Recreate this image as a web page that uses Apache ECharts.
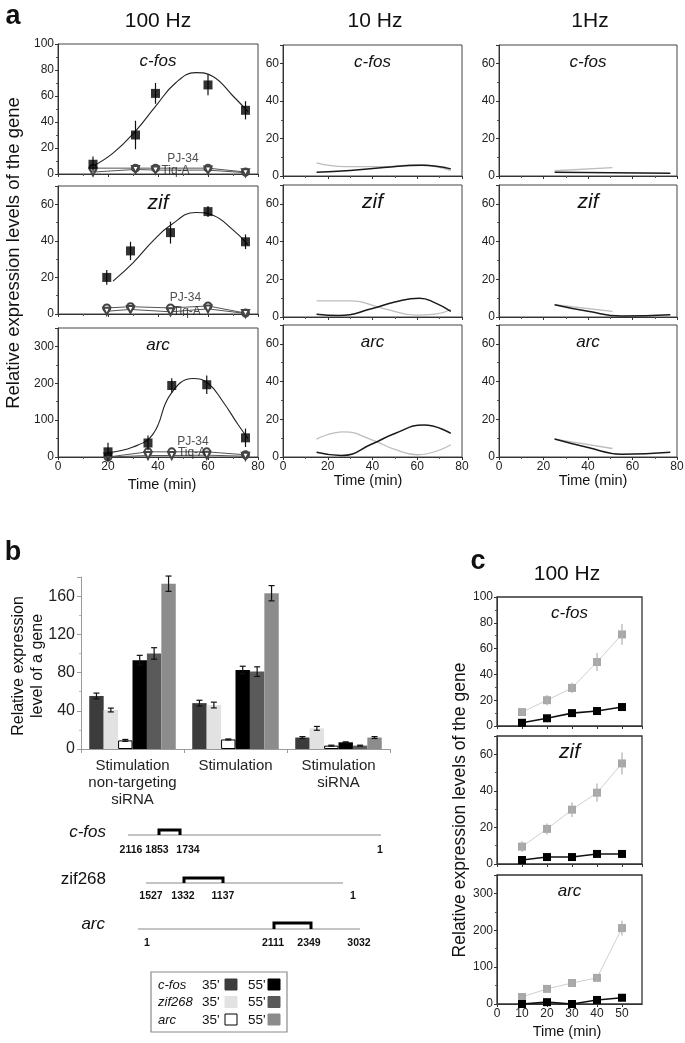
<!DOCTYPE html>
<html>
<head>
<meta charset="utf-8">
<script src="https://cdn.jsdelivr.net/npm/echarts@6/dist/echarts.min.js"></script>
<style>
  html, body { margin: 0; padding: 0; background: #fff; }
  #chart { width: 685px; height: 1043px; }
</style>
</head>
<body>
<div id="chart"></div>
<script>
// ---------- data ----------
const genes = ["c-fos", "zif", "arc"];
const freqs = ["100 Hz", "10 Hz", "1Hz"];
const timeLabel = "Time (min)";
const yLabel = "Relative expression levels of the gene";

// panel a, 100 Hz: [time, value, error]
const cfos100Points = [[14, 7.5, 6], [31, 30, 11], [39, 62, 8], [60, 68.5, 8], [75, 49, 7]];
const cfos100Fit = [[14, 6], [22, 16], [31, 33], [39, 52], [47, 70], [55, 78], [62, 75], [70, 60], [76, 48]];
const cfos100PJ34 = [[14, 4.5], [31, 4.5], [39, 4.5], [60, 4.5], [75, 1.5]];
const cfos100TiqA = [[14, 1.5], [31, 3.5], [39, 3], [60, 3], [75, 1]];

const zif100Points = [[19.5, 20, 4], [29, 34.5, 5], [45, 44.5, 6], [60, 56, 3], [75, 39.5, 4]];
const zif100Fit = [[22, 18], [30, 28], [38, 40], [45, 48.5], [55, 55.5], [62, 54], [70, 46], [76, 38]];
const zif100PJ34 = [[19.5, 3.3], [29, 4], [45, 3.3], [60, 4.4], [75, 0.5]];
const zif100TiqA = [[19.5, 1.5], [29, 2.5], [45, 1.2], [60, 2.8], [75, 0.3]];

const arc100Points = [[20, 14, 25], [36, 38, 20], [45.5, 194, 20], [59.5, 196, 25], [75, 52, 25]];
const arc100Fit = [[20, 12], [30, 27], [38, 62], [45, 170], [54, 213], [60, 200], [66, 150], [72, 88], [76, 50]];
const arc100PJ34 = [[20, 0], [36, 14], [45.5, 14], [59.5, 14], [75, 6]];
const arc100TiqA = [[20, 0], [36, 4], [45.5, 4], [59.5, 5], [75, 2]];

// where the "PJ-34" / "Tiq-A" notes sit, in data units
const pjNote = [[50, 11.5], [51, 8.8], [54, 41]];
const tiqNote = [[47, 2.5], [51.5, 1], [53.6, 11]];

// panel a, 10 Hz and 1 Hz traces
const cfos10Black = [[15, 2], [30, 3], [45, 4.5], [62, 5.8], [75, 3.8]];
const cfos10Gray = [[15, 7], [28, 5], [45, 5], [60, 6], [75, 3]];
const zif10Black = [[15, 1.5], [25, 0.8], [40, 4.5], [50, 8], [61, 10], [68, 7.5], [75, 3]];
const zif10Gray = [[15, 8.5], [30, 8.5], [45, 4.5], [60, 1], [68, 1.5], [75, 4]];
const arc10Black = [[15, 2.5], [26, 0.8], [40, 7], [50, 12.5], [63, 17], [75, 12.5]];
const arc10Gray = [[15, 9.5], [27, 13.3], [40, 9], [50, 4], [60, 1.2], [75, 6.5]];

const cfos1Black = [[25, 2], [77, 1.5]];
const cfos1Gray = [[25, 2.8], [51, 4.5]];
const zif1Black = [[25, 6.5], [40, 3], [55, 0.5], [77, 1.2]];
const zif1Gray = [[25, 6.5], [51, 3]];
const arc1Black = [[25, 9.5], [40, 5], [55, 1.5], [77, 2.5]];
const arc1Gray = [[25, 9.5], [51, 4.5]];

// panel b
const groups = ["Stimulation\nnon-targeting\nsiRNA", "Stimulation", "Stimulation\nsiRNA"];
const barNames = ["c-fos 35'", "zif268 35'", "arc 35'", "c-fos 55'", "zif268 55'", "arc 55'"];
const barValues = [
  [55.5, 48, 12],
  [40.8, 46, 21.6],
  [9, 10, 3.5],
  [93, 82.6, 7],
  [100, 81, 3.5],
  [173, 163, 12]
];
const barErrors = [
  [3, 3, 1],
  [2, 3, 2],
  [1, 0.5, 0.5],
  [5, 4, 0.5],
  [6, 5, 0.5],
  [8, 8, 1]
];
const legendGenes = ["c-fos", "zif268", "arc"];
const legendTimes = ["35'", "55'"];

// gene maps under panel b
const mapNames = ["c-fos", "zif268", "arc"];
const mapNumbers = [
  ["2116", "1853", "1734", "1"],
  ["1527", "1332", "1137", "1"],
  ["1", "2111", "2349", "3032"]
];

// panel c, 100 Hz
const timeC = [10, 20, 30, 40, 50];
const cfosCGray = [10.8, 20, 29.5, 49.6, 71];
const cfosCGrayErr = [3, 4, 4, 7, 8];
const cfosCBlack = [2.5, 6, 10, 11.6, 14.7];
const cfosCBlackErr = [2, 2, 2, 3, 3];
const zifCGray = [9.5, 19.2, 29.7, 39, 55];
const zifCGrayErr = [3, 3, 4, 5, 6];
const zifCBlack = [2.2, 3.8, 3.8, 5.5, 5.5];
const zifCBlackErr = [1.5, 1.5, 1.5, 1.5, 1.5];
const arcCGray = [19, 41, 57, 71, 206];
const arcCGrayErr = [6, 8, 10, 10, 20];
const arcCBlack = [0, 5, 0, 11, 17];
const arcCBlackErr = [4, 4, 4, 5, 6];

// ---------- layout / style ----------
const FONT = "Liberation Sans, Arial, Helvetica, sans-serif";
const barColors = ["#3c3c3c", "#e2e2e2", "#ffffff", "#000000", "#5a5a5a", "#8c8c8c"];
const geneFont = [17, 21, 17];

const colsA = [[58, 258], [283, 462], [499, 677]];
const rowsA = [
  [[44, 174], [186, 314], [328, 457]],
  [[45, 176], [185, 317], [325, 457]],
  [[45, 176], [185, 317], [325, 457]]
];
const yMax100 = [100, 70, 350];
const yInt100 = [20, 20, 100];
const colC = [497, 642];
const rowsC = [[597, 726], [736, 864], [875, 1004]];

const grids = [];
const xAxes = [];
const yAxes = [];
const series = [];
const graphics = [];

const axisStyle = { show: true, lineStyle: { color: "#333", width: 1 } };

function addPanel(x0, x1, y0, y1, xOpt, yOpt, frame) {
  const i = grids.length;
  grids.push({
    left: x0, top: y0, width: x1 - x0, height: y1 - y0,
    show: frame, borderColor: "#444", borderWidth: 1,
    backgroundColor: "transparent", containLabel: false, outerBoundsMode: "none"
  });
  xAxes.push(Object.assign({
    gridIndex: i, type: "value",
    axisLine: axisStyle,
    axisTick: { show: true, length: 3, lineStyle: { color: "#333" } },
    splitLine: { show: false }
  }, xOpt));
  yAxes.push(Object.assign({
    gridIndex: i, type: "value",
    axisLine: axisStyle,
    axisTick: { show: true, length: 3, lineStyle: { color: "#333" } },
    minorTick: { show: true, splitNumber: 2, length: 2, lineStyle: { color: "#555" } },
    splitLine: { show: false }
  }, yOpt));
  return i;
}

function valueLabel(show, max, interval, margin) {
  return {
    show: show, fontSize: 12, color: "#222", margin: margin || 4, fontFamily: FONT,
    showMaxLabel: max % interval === 0, showMinLabel: true
  };
}

function text(x, y, s, size, extra) {
  return {
    type: "text", x: x, y: y, silent: true,
    style: Object.assign({
      text: s, fontSize: size, fontFamily: FONT, fill: "#111",
      align: "center", verticalAlign: "middle",
      textAlign: "center", textVerticalAlign: "middle"
    }, extra || {})
  };
}

function errorBars(idx, data, color) {
  return {
    type: "custom", xAxisIndex: idx, yAxisIndex: idx, data: data, z: 4, silent: true,
    renderItem: function (params, api) {
      const x = api.value(0), y = api.value(1), e = api.value(2);
      const p1 = api.coord([x, y - e]);
      const p2 = api.coord([x, y + e]);
      return {
        type: "line",
        shape: { x1: p1[0], y1: p1[1], x2: p2[0], y2: p2[1] },
        style: { stroke: color, lineWidth: 1.2 }
      };
    }
  };
}

// ---------- panel a ----------
const set100 = [
  { pts: cfos100Points, fit: cfos100Fit, pj: cfos100PJ34, tiq: cfos100TiqA },
  { pts: zif100Points, fit: zif100Fit, pj: zif100PJ34, tiq: zif100TiqA },
  { pts: arc100Points, fit: arc100Fit, pj: arc100PJ34, tiq: arc100TiqA }
];
const setLow = [
  [[cfos10Black, cfos10Gray], [zif10Black, zif10Gray], [arc10Black, arc10Gray]],
  [[cfos1Black, cfos1Gray], [zif1Black, zif1Gray], [arc1Black, arc1Gray]]
];
const timeYA = [485, 481, 481];
const timeXA = [162, 368, 593];

for (let c = 0; c < 3; c++) {
  const [x0, x1] = colsA[c];
  for (let r = 0; r < 3; r++) {
    const [y0, y1] = rowsA[c][r];
    const bottom = r === 2;
    const ymax = c === 0 ? yMax100[r] : 70;
    const yint = c === 0 ? yInt100[r] : 20;
    const idx = addPanel(x0, x1, y0, y1,
      {
        min: 0, max: 80, interval: 20,
        minorTick: { show: true, splitNumber: 2, length: 2, lineStyle: { color: "#555" } },
        axisLabel: valueLabel(bottom, 80, 20, 4)
      },
      { min: 0, max: ymax, interval: yint, axisLabel: valueLabel(true, ymax, yint) },
      true);

    graphics.push(text((x0 + x1) / 2, y0 + 17, genes[r], geneFont[r], { fontStyle: "italic" }));

    if (c === 0) {
      const s = set100[r];
      series.push({
        type: "line", xAxisIndex: idx, yAxisIndex: idx, data: s.fit, smooth: 0.45,
        showSymbol: false, lineStyle: { color: "#222", width: 1.1 }, z: 2, silent: true
      });
      series.push({
        type: "line", xAxisIndex: idx, yAxisIndex: idx, data: s.pj,
        symbol: "emptyCircle", symbolSize: 7,
        lineStyle: { color: "#555", width: 1 }, itemStyle: { color: "#444", borderWidth: 1 }, z: 3
      });
      series.push({
        type: "line", xAxisIndex: idx, yAxisIndex: idx, data: s.tiq,
        symbol: "emptyTriangle", symbolRotate: 180, symbolSize: 7,
        lineStyle: { color: "#555", width: 1 }, itemStyle: { color: "#444", borderWidth: 1 }, z: 3
      });
      series.push(errorBars(idx, s.pts, "#111"));
      series.push({
        type: "scatter", xAxisIndex: idx, yAxisIndex: idx, data: s.pts.map(p => [p[0], p[1]]),
        symbol: "rect", symbolSize: 9, itemStyle: { color: "#000" }, z: 5
      });
      series.push({
        type: "scatter", xAxisIndex: idx, yAxisIndex: idx, z: 6, silent: true,
        data: [[pjNote[r][0], pjNote[r][1], "PJ-34"], [tiqNote[r][0], tiqNote[r][1], "Tiq-A"]],
        symbolSize: 1, itemStyle: { color: "transparent" },
        label: {
          show: true, position: "inside", formatter: p => p.data[2],
          fontSize: 12, color: "#222", fontFamily: FONT
        }
      });
    } else {
      const [blk, gry] = setLow[c - 1][r];
      series.push({
        type: "line", xAxisIndex: idx, yAxisIndex: idx, data: gry, smooth: 0.5,
        showSymbol: false, lineStyle: { color: "#bdbdbd", width: 1.3 }, z: 2
      });
      series.push({
        type: "line", xAxisIndex: idx, yAxisIndex: idx, data: blk, smooth: 0.5,
        showSymbol: false, lineStyle: { color: "#1a1a1a", width: 1.5 }, z: 3
      });
    }
  }
  graphics.push(text(timeXA[c], timeYA[c], timeLabel, 14.5));
}

graphics.push(text(158, 21, freqs[0], 21));
graphics.push(text(375, 21, freqs[1], 21));
graphics.push(text(590, 21, freqs[2], 21));
graphics.push(text(13, 17, "a", 27, { fontWeight: "bold" }));
graphics.push(text(14, 253, yLabel, 18.5, {}));
graphics[graphics.length - 1].rotation = Math.PI / 2;

// ---------- panel b ----------
const bIdx = grids.length;
grids.push({ left: 81, top: 577, width: 309, height: 172, show: false, containLabel: false, outerBoundsMode: "none" });
xAxes.push({
  gridIndex: bIdx, type: "category", data: groups,
  axisLine: { show: true, lineStyle: { color: "#9a9a9a" } },
  axisTick: { show: true, length: 4, lineStyle: { color: "#9a9a9a" } },
  axisLabel: { fontSize: 15, lineHeight: 17, color: "#222", margin: 8, fontFamily: FONT, interval: 0 }
});
yAxes.push({
  gridIndex: bIdx, type: "value", min: 0, max: 180, interval: 40,
  axisLine: { show: true, lineStyle: { color: "#9a9a9a" } },
  axisTick: { show: true, length: 4, lineStyle: { color: "#9a9a9a" } },
  minorTick: { show: true, splitNumber: 2, length: 2, lineStyle: { color: "#bbb" } },
  splitLine: { show: false },
  axisLabel: { fontSize: 16, color: "#222", margin: 6, fontFamily: FONT, showMaxLabel: false }
});
const CAT_GAP = 0.16;
barNames.forEach((name, i) => {
  series.push({
    type: "bar", name: name, xAxisIndex: bIdx, yAxisIndex: bIdx, data: barValues[i],
    barGap: "0%", barCategoryGap: (CAT_GAP * 100) + "%",
    itemStyle: { color: barColors[i], borderColor: i === 2 ? "#000" : barColors[i], borderWidth: i === 2 ? 1 : 0 }
  });
});
barNames.forEach((name, i) => {
  series.push({
    type: "custom", xAxisIndex: bIdx, yAxisIndex: bIdx, z: 5, silent: true,
    data: barValues[i].map((v, g) => [g, v, barErrors[i][g]]),
    renderItem: function (params, api) {
      const g = api.value(0), v = api.value(1), e = api.value(2);
      const band = api.size([1, 0])[0];
      const bw = band * (1 - CAT_GAP) / barNames.length;
      const center = api.coord([g, v]);
      const x = center[0] - band * (1 - CAT_GAP) / 2 + (i + 0.5) * bw;
      const top = api.coord([g, v + e])[1];
      const bot = api.coord([g, v - e])[1];
      const st = { stroke: "#111", lineWidth: 1.2 };
      return {
        type: "group", children: [
          { type: "line", shape: { x1: x, y1: top, x2: x, y2: bot }, style: st },
          { type: "line", shape: { x1: x - 3, y1: top, x2: x + 3, y2: top }, style: st },
          { type: "line", shape: { x1: x - 3, y1: bot, x2: x + 3, y2: bot }, style: st }
        ]
      };
    }
  });
});
graphics.push(text(13, 553, "b", 27, { fontWeight: "bold" }));
graphics.push(text(28, 666, "Relative expression\nlevel of a gene", 16, { lineHeight: 19 }));
graphics[graphics.length - 1].rotation = Math.PI / 2;

// gene maps
const mapLayout = [
  { label: [106, 832], line: [128, 381, 835], bracket: [159, 180, 830], numY: 850, numX: [131, 157, 188, 380], italic: true },
  { label: [106, 879], line: [146, 343, 883], bracket: [184, 223, 878], numY: 896, numX: [151, 183, 223, 353], italic: false },
  { label: [105, 924], line: [138, 360, 929], bracket: [274, 311, 923], numY: 943, numX: [147, 273, 309, 359], italic: true }
];
mapNames.forEach((name, k) => {
  const L = mapLayout[k];
  graphics.push(text(L.label[0], L.label[1], name, 17, { align: "right", textAlign: "right", fontStyle: L.italic ? "italic" : "normal" }));
  graphics.push({ type: "line", silent: true, shape: { x1: L.line[0], y1: L.line[2], x2: L.line[1], y2: L.line[2] }, style: { stroke: "#8a8a8a", lineWidth: 1 } });
  graphics.push({
    type: "polyline", silent: true,
    shape: { points: [[L.bracket[0], L.line[2]], [L.bracket[0], L.bracket[2]], [L.bracket[1], L.bracket[2]], [L.bracket[1], L.line[2]]] },
    style: { stroke: "#000", lineWidth: 3, fill: null }
  });
  mapNumbers[k].forEach((n, j) => graphics.push(text(L.numX[j], L.numY, n, 10.5, { fontWeight: "bold" })));
});

// legend box
graphics.push({ type: "rect", silent: true, shape: { x: 151, y: 972, width: 136, height: 60 }, style: { fill: "#fff", stroke: "#8a8a8a", lineWidth: 1.2 } });
legendGenes.forEach((g, k) => {
  const y = 985 + k * 17.5;
  graphics.push(text(158, y, g, 13, { align: "left", textAlign: "left", fontStyle: "italic" }));
  legendTimes.forEach((t, j) => {
    const i = j * 3 + k;
    graphics.push(text(202 + j * 46, y, t, 13.5, { align: "left", textAlign: "left" }));
    graphics.push({
      type: "rect", silent: true, shape: { x: 225 + j * 43, y: y - 6, width: 12, height: 11 },
      style: { fill: barColors[i], stroke: i === 2 ? "#000" : barColors[i], lineWidth: 1 }
    });
  });
});

// ---------- panel c ----------
const setC = [
  [cfosCGray, cfosCGrayErr, cfosCBlack, cfosCBlackErr],
  [zifCGray, zifCGrayErr, zifCBlack, zifCBlackErr],
  [arcCGray, arcCGrayErr, arcCBlack, arcCBlackErr]
];
for (let r = 0; r < 3; r++) {
  const [y0, y1] = rowsC[r];
  const bottom = r === 2;
  const idx = addPanel(colC[0], colC[1], y0, y1,
    { min: 0, max: 58, interval: 10, axisLabel: valueLabel(bottom, 58, 10) },
    { min: 0, max: yMax100[r], interval: yInt100[r], axisLabel: valueLabel(true, yMax100[r], yInt100[r]) },
    true);
  grids[idx].borderColor = "#333";
  grids[idx].borderWidth = 1.3;
  graphics.push(text((colC[0] + colC[1]) / 2, y0 + 16, genes[r], geneFont[r], { fontStyle: "italic" }));
  const [gv, ge, bv, be] = setC[r];
  series.push({
    type: "line", xAxisIndex: idx, yAxisIndex: idx, data: timeC.map((t, k) => [t, gv[k]]),
    symbol: "rect", symbolSize: 8, lineStyle: { color: "#cfcfcf", width: 1 }, itemStyle: { color: "#a8a8a8" }, z: 3
  });
  series.push(errorBars(idx, timeC.map((t, k) => [t, gv[k], ge[k]]), "#b0b0b0"));
  series.push({
    type: "line", xAxisIndex: idx, yAxisIndex: idx, data: timeC.map((t, k) => [t, bv[k]]),
    symbol: "rect", symbolSize: 8, lineStyle: { color: "#111", width: 1.6 }, itemStyle: { color: "#000" }, z: 5
  });
  series.push(errorBars(idx, timeC.map((t, k) => [t, bv[k], be[k]]), "#111"));
}
graphics.push(text(567, 574, "100 Hz", 21));
graphics.push(text(478, 562, "c", 27, { fontWeight: "bold" }));
graphics.push(text(567, 1032, timeLabel, 14.5));
graphics.push(text(460, 810, yLabel, 17.5));
graphics[graphics.length - 1].rotation = Math.PI / 2;

// ---------- render ----------
const chart = echarts.init(document.getElementById("chart"), null, { renderer: "canvas" });
chart.setOption({
  animation: false,
  backgroundColor: "#fff",
  textStyle: { fontFamily: FONT },
  grid: grids,
  xAxis: xAxes,
  yAxis: yAxes,
  series: series,
  graphic: { elements: graphics }
});
</script>
</body>
</html>
